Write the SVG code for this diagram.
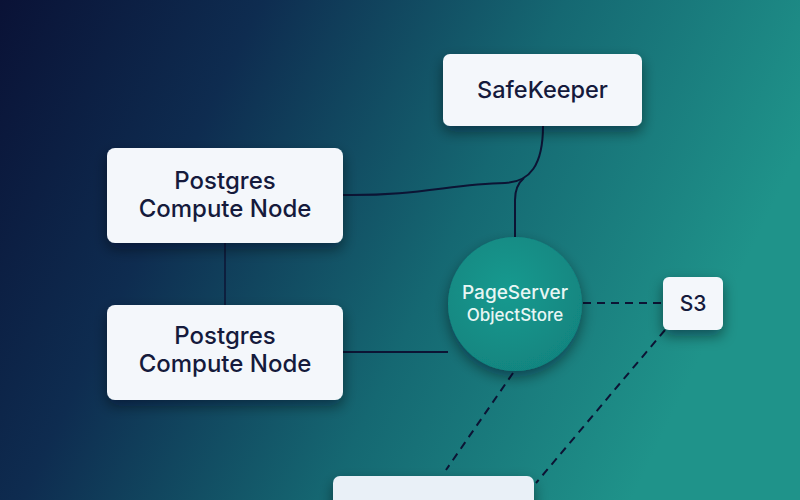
<svg xmlns="http://www.w3.org/2000/svg" width="800" height="500" viewBox="0 0 800 500">
  <defs>
    <linearGradient id="bg" x1="0" y1="0" x2="1" y2="0.3">
      <stop offset="0" stop-color="#0a1236"/>
      <stop offset="0.3" stop-color="#0e2c50"/>
      <stop offset="0.65" stop-color="#156872"/>
      <stop offset="1" stop-color="#1f938a"/>
    </linearGradient>
    <radialGradient id="circ" cx="0.45" cy="0.4" r="0.65">
      <stop offset="0" stop-color="#169a8f"/>
      <stop offset="1" stop-color="#11847f"/>
    </radialGradient>
    <filter id="sh" x="-30%" y="-30%" width="160%" height="170%">
      <feDropShadow dx="0" dy="6" stdDeviation="7" flood-color="#020a1e" flood-opacity="0.45"/>
    </filter>
    <style>
      .box { fill: #f4f7fb; filter: url(#sh); }
      .lbl { font-family: Inter, "Noto Sans", "Liberation Sans", sans-serif; font-weight: 500; fill: #151a3c; text-anchor: middle; }
      .wl { font-family: Inter, "Noto Sans", "Liberation Sans", sans-serif; font-weight: 500; fill: #e8f6f4; text-anchor: middle; }
      .solid { fill: none; stroke: #0c1434; stroke-width: 2; }
      .thin { fill: none; stroke: #0c1434; stroke-width: 1.5; }
      .dash { fill: none; stroke: #0c1434; stroke-width: 2; stroke-dasharray: 8 6; }
    </style>
  </defs>
  <rect width="800" height="500" fill="url(#bg)"/>

  <g id="connectors">
    <path class="solid" d="M343,195 C420,196 450,184 505,183 C530,182 543,165 543,126"/>
    <path class="solid" d="M515,237 L515,200 C515,190 518,183 524,178"/>
    <path class="thin" d="M225,243 L225,305"/>
    <path class="solid" d="M343,352 L448,352"/>
    <path class="dash" d="M583,303 L663,303"/>
    <path class="dash" d="M513,373 L446,470"/>
    <path class="dash" d="M665,330 L536,483"/>
  </g>

  <g id="safekeeper">
    <rect class="box" x="443" y="54" width="199" height="72" rx="7"/>
    <text class="lbl" x="542.5" y="98" font-size="23.5">SafeKeeper</text>
  </g>

  <g id="postgres1">
    <rect class="box" x="107" y="148" width="236" height="95" rx="8"/>
    <text class="lbl" x="225" y="189" font-size="24">Postgres</text>
    <text class="lbl" x="225" y="217" font-size="24">Compute Node</text>
  </g>

  <g id="postgres2">
    <rect class="box" x="107" y="305" width="236" height="95" rx="8"/>
    <text class="lbl" x="225" y="344" font-size="24">Postgres</text>
    <text class="lbl" x="225" y="372" font-size="24">Compute Node</text>
  </g>

  <g id="pageserver">
    <circle cx="515" cy="304" r="67" fill="url(#circ)" filter="url(#sh)"/>
    <text class="wl" x="515" y="299" font-size="19">PageServer</text>
    <text class="wl" x="515" y="321" font-size="17">ObjectStore</text>
  </g>

  <g id="s3">
    <rect class="box" x="663" y="277" width="60" height="53" rx="6"/>
    <text class="lbl" x="693" y="311" font-size="21">S3</text>
  </g>

  <g id="bottom-node">
    <rect class="box" x="333" y="476" width="201" height="60" rx="7" style="fill:#e9f0f7"/>
  </g>
</svg>
